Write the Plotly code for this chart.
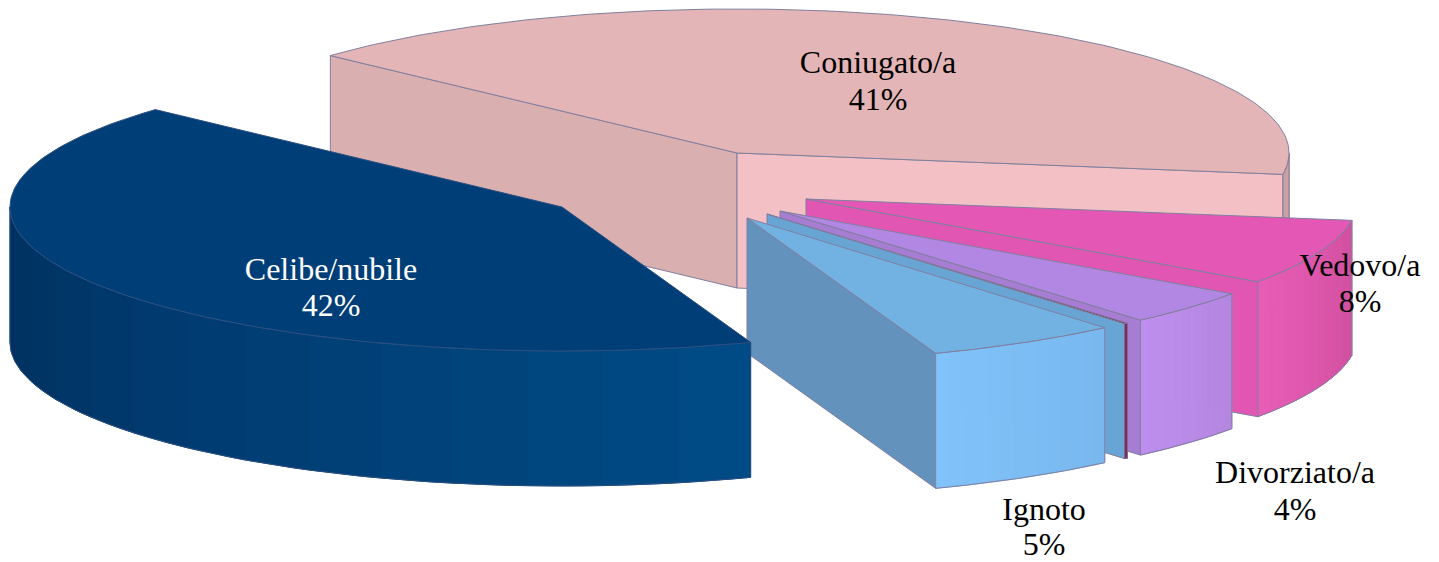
import numpy as np
import plotly.graph_objects as go

categories = ["Coniugato/a", "Vedovo/a", "Divorziato/a", "", "Ignoto", "Celibe/nubile"]
shares = [40.55, 7.37, 3.94, 0.1, 5.67, 42.37]
pct_labels = ["41%", "8%", "4%", "", "5%", "42%"]

# ---------- projection / explode layout (pixels)
RX, RY, H = 552, 144, 135
START_ANGLE = 137.45
apex = {"Coniugato/a": (737, 153), "Vedovo/a": (806, 199), "Divorziato/a": (780, 211),
        "": (767, 214), "Ignoto": (747, 218), "Celibe/nubile": (562, 207)}
label_pos = {"Coniugato/a": (878, 65, 102), "Vedovo/a": (1360, 268, 304),
             "Divorziato/a": (1295, 475, 512), "Ignoto": (1044, 512, 547),
             "Celibe/nubile": (331, 272, 308)}
label_color = {"Celibe/nubile": "#ffffff"}

# ---------- styles
top_col = {"Coniugato/a": "#e4b5b6", "Vedovo/a": "#e557b5", "Divorziato/a": "#b287e3",
           "": "#7d1a50", "Ignoto": "#72b2e3", "Celibe/nubile": "#003e78"}
start_wall = {"Coniugato/a": "#d9afb0"}
end_wall = {"Coniugato/a": "#f3c1c5", "Vedovo/a": "#e256b3", "Divorziato/a": "#a77dd3",
            "": "#68a5d4", "Ignoto": "#6393bd"}
# first colour = right end of the rim, second = left end
outer_stops = {"Coniugato/a": ("#cba3a2", "#c9a1a0"), "Vedovo/a": ("#d04f9e", "#e75cb6"),
               "Divorziato/a": ("#b586e0", "#bd8eed"), "": ("#7d1a50", "#7d1a50"),
               "Ignoto": ("#78b8ef", "#80c2f9"), "Celibe/nubile": ("#004a85", "#00305f")}
edge_col = {"Celibe/nubile": "#2c4f80"}
DEFAULT_EDGE = "#807f9f"
BANDS = 14


def mix(a, b, f):
    ca = [int(a[i:i + 2], 16) for i in (1, 3, 5)]
    cb = [int(b[i:i + 2], 16) for i in (1, 3, 5)]
    return "#%02x%02x%02x" % tuple(round(x + (y - x) * f) for x, y in zip(ca, cb))


def rim(cx, cy, t, dy=0):
    r = np.radians(t)
    return cx + RX * np.cos(r), cy - RY * np.sin(r) + dy


fig = go.Figure()


def poly(xs, ys, fill, line=None, width=1):
    xs, ys = list(xs), list(ys)
    fig.add_trace(go.Scatter(x=xs + xs[:1], y=ys + ys[:1], mode="lines", fill="toself",
                             fillcolor=fill, line=dict(color=line or fill, width=width),
                             hoverinfo="skip", showlegend=False))


def wall(cx, cy, t, fill, edge):
    px, py = rim(cx, cy, t)
    poly([cx, px, px, cx], [cy, py, py + H, cy + H], fill, edge)


t0 = START_ANGLE
for name, share in zip(categories, shares):
    t1 = t0 - share * 3.6
    cx, cy = apex[name]
    edge = edge_col.get(name, DEFAULT_EDGE)
    # cut walls that face the viewer
    if np.cos(np.radians(t0)) < 0 and name in start_wall:
        wall(cx, cy, t0, start_wall[name], edge)
    if np.cos(np.radians(t1)) > 0 and name in end_wall:
        wall(cx, cy, t1, end_wall[name], edge)
    # outer rim wall, split in bands for the stepped shading
    hi, lo = min(t0, 0), max(t1, -180)
    if hi > lo:
        edges = np.linspace(hi, lo, BANDS + 1)
        c0, c1 = outer_stops[name]
        for i in range(BANDS):
            ts = np.linspace(edges[i], edges[i + 1], 8)
            x, y = rim(cx, cy, ts)
            poly(np.r_[x, x[::-1]], np.r_[y, y[::-1] + H], mix(c0, c1, i / (BANDS - 1)))
        ts = np.linspace(hi, lo, 80)
        x, y = rim(cx, cy, ts)
        fig.add_trace(go.Scatter(x=np.r_[x, x[::-1], x[0]], y=np.r_[y + H, y[::-1], y[0] + H],
                                 mode="lines", line=dict(color=edge, width=1),
                                 hoverinfo="skip", showlegend=False))
    # top face
    ts = np.linspace(t0, t1, 160)
    x, y = rim(cx, cy, ts)
    poly(np.r_[cx, x], np.r_[cy, y], top_col[name], edge)
    t0 = t1

for name, pct in zip(categories, pct_labels):
    if not name:
        continue
    lx, y1, y2 = label_pos[name]
    fig.add_trace(go.Scatter(x=[lx, lx], y=[y1, y2], text=[name, pct], mode="text",
                             textposition="middle center", cliponaxis=False,
                             textfont=dict(family="Liberation Serif", size=32,
                                           color=label_color.get(name, "#000000")),
                             hoverinfo="skip", showlegend=False))

fig.update_layout(width=1439, height=562, margin=dict(l=0, r=0, t=0, b=0),
                  paper_bgcolor="#ffffff", plot_bgcolor="#ffffff", showlegend=False,
                  xaxis=dict(range=[0, 1439], visible=False, fixedrange=True),
                  yaxis=dict(range=[562, 0], visible=False, fixedrange=True))
fig.write_html("out.html", config={"displayModeBar": False},
               post_script="document.body.style.margin='0';document.body.style.overflow='hidden';")
